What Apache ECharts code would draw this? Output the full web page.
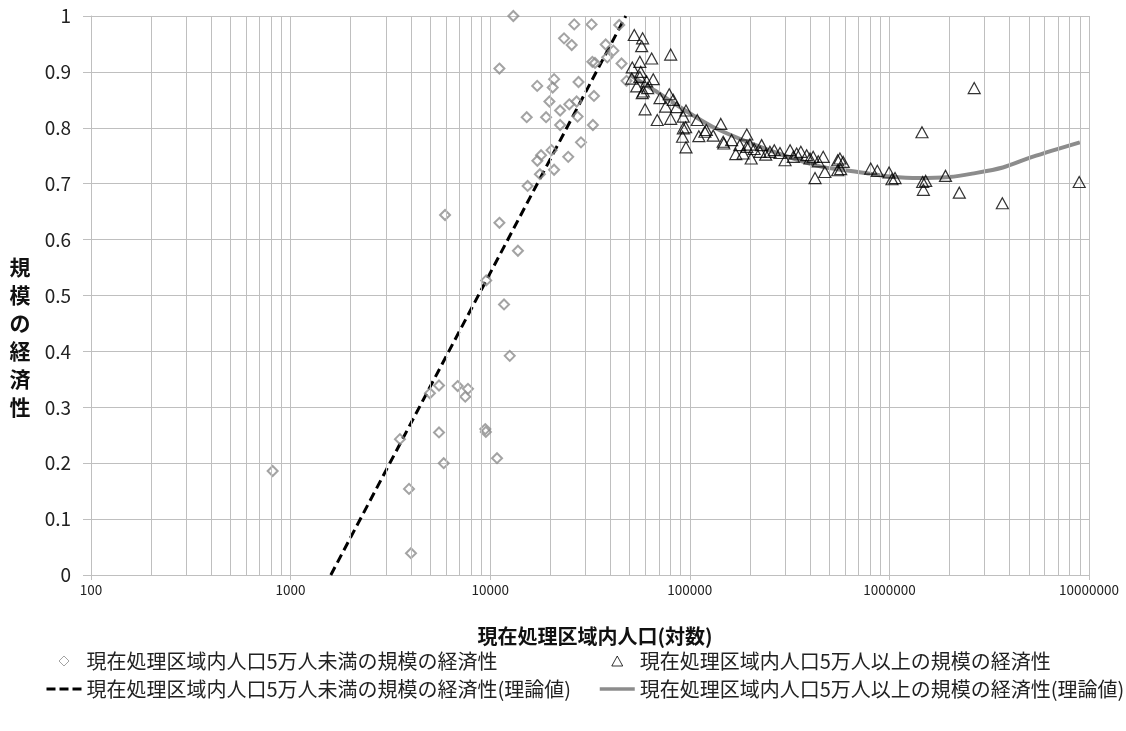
<!DOCTYPE html>
<html>
<head>
<meta charset="utf-8">
<script src="https://cdn.jsdelivr.net/npm/echarts@6/dist/echarts.min.js"></script>
<style>html,body{margin:0;padding:0;background:#fff;}#c{width:1126px;height:731px;}</style>
</head>
<body>
<div id="c"></div>
<script>
// ---- data ----
const seriesNames = [
  '現在処理区域内人口5万人未満の規模の経済性',
  '現在処理区域内人口5万人以上の規模の経済性',
  '現在処理区域内人口5万人未満の規模の経済性(理論値)',
  '現在処理区域内人口5万人以上の規模の経済性(理論値)'
];
const xTickLabels = ['100','1000','10000','100000','1000000','10000000'];
const yTickLabels = ['0','0.1','0.2','0.3','0.4','0.5','0.6','0.7','0.8','0.9','1'];
const minorGridValues = [
  200,300,400,500,600,700,800,900,
  2000,3000,4000,5000,6000,7000,8000,9000,
  20000,30000,40000,50000,60000,70000,80000,90000,
  200000,300000,400000,500000,600000,700000,800000,900000,
  2000000,3000000,4000000,5000000,6000000,7000000,8000000,9000000
];
// small municipalities (< 50,000): [population, economy of scale]
const smallObs = [
  [813,0.186],[3530,0.243],[3920,0.154],[4010,0.039],[4990,0.325],[5540,0.339],
  [5540,0.255],[5850,0.200],[5940,0.644],[6870,0.338],[7500,0.319],[7740,0.333],
  [9450,0.261],[9510,0.256],[9550,0.527],[10820,0.209],[11120,0.906],[11120,0.630],
  [11730,0.484],[12530,0.392],[13060,1.0],[13770,0.580],[15240,0.819],[15400,0.696],
  [17200,0.875],[17230,0.741],[17740,0.717],[17980,0.751],[19050,0.819],[19800,0.847],
  [20300,0.760],[20570,0.872],[20900,0.887],[20900,0.725],[22400,0.831],[22400,0.805],
  [23440,0.960],[24600,0.748],[24900,0.842],[25600,0.948],[26370,0.985],[27100,0.847],
  [27400,0.820],[27700,0.882],[28500,0.774],[32200,0.985],[32500,0.918],[32700,0.805],
  [33100,0.857],[33500,0.916],[37900,0.949],[38600,0.926],[41400,0.938],[44300,0.984],
  [45500,0.915],[48200,0.884]
];
// large municipalities (>= 50,000)
const largeObs = [
  [52700,0.966],[58000,0.960],[57400,0.946],[64400,0.924],[80200,0.931],[56200,0.918],
  [51500,0.908],[56800,0.900],[51200,0.888],[56200,0.891],[65600,0.887],[60800,0.883],
  [54200,0.874],[61500,0.871],[57800,0.862],[58500,0.865],[70900,0.853],[78900,0.860],
  [82600,0.850],[75700,0.838],[85900,0.837],[59700,0.833],[95700,0.831],[68700,0.814],
  [80200,0.816],[92700,0.820],[92800,0.799],[109000,0.814],[95300,0.801],[92000,0.784],
  [111000,0.785],[95700,0.765],[121000,0.796],[143000,0.807],[119000,0.793],[131000,0.786],
  [147000,0.775],[148000,0.772],[162000,0.778],[193000,0.788],[193000,0.766],[178000,0.769],
  [200000,0.770],[170000,0.753],[185000,0.754],[203000,0.745],[210000,0.762],[229000,0.769],
  [225000,0.757],[240000,0.752],[252000,0.757],[265000,0.760],[283000,0.755],[318000,0.760],
  [300000,0.742],[330000,0.748],[343000,0.754],[360000,0.757],[385000,0.751],[400000,0.745],
  [415000,0.748],[440000,0.740],[466000,0.748],[424000,0.710],[475000,0.721],[551000,0.742],
  [551000,0.724],[565000,0.745],[587000,0.739],[570000,0.726],[806000,0.727],[870000,0.723],
  [996000,0.720],[1067000,0.710],[1030000,0.708],[1456000,0.792],[1468000,0.703],[1480000,0.689],
  [1520000,0.705],[1910000,0.714],[2240000,0.684],[2660000,0.871],[3680000,0.665],[8930000,0.703]
];
// theoretical curves
const smallTheory = [[1590,0],[47800,1]];
const largeTheory = [
  [50000,0.895],[60000,0.877],[70000,0.862],[80000,0.848],[100000,0.826],[130000,0.802],
  [200000,0.773],[300000,0.750],[450000,0.731],[600000,0.724],[800000,0.718],[1000000,0.713],
  [1400000,0.710],[2000000,0.712],[2600000,0.718],[3700000,0.729],[5200000,0.748],[9000000,0.774]
];

// ---- chart ----
const FONT = '"Noto Sans CJK JP", "Noto Sans", sans-serif';
const GRID = '#bfbfbf';
const DIAMOND_ICON = 'path://M5,0L10,5L5,10L0,5Z';
const TRIANGLE_ICON = 'path://M6,0L12,11L0,11Z';
const legendCommon = {
  orient: 'vertical', itemWidth: 35, itemHeight: 10, itemGap: 8, padding: 0,
  symbolKeepAspect: true,
  textStyle: {fontFamily: FONT, fontSize: 20, color: '#222'},
  itemStyle: {borderWidth: 1}
};
const chart = echarts.init(document.getElementById('c'), null, {renderer: 'canvas'});
chart.setOption({
  animation: false,
  backgroundColor: '#ffffff',
  textStyle: {fontFamily: FONT},
  grid: {left: 91, right: 37, top: 16, bottom: 156, containLabel: false},
  xAxis: {
    type: 'log', logBase: 10, min: 100, max: 10000000,
    name: '現在処理区域内人口(対数)', nameLocation: 'middle', nameGap: 51,
    nameTextStyle: {fontFamily: FONT, fontSize: 20, fontWeight: 'bold', color: '#111', padding: [0,0,0,10]},
    axisLine: {show: true, lineStyle: {color: GRID, width: 1}},
    axisTick: {show: true, length: 5, lineStyle: {color: GRID}},
    axisLabel: {
      fontFamily: FONT, fontSize: 13.5, color: '#222', margin: 8,
      formatter: v => { const s = String(Math.round(v)); return xTickLabels.indexOf(s) >= 0 ? s : ''; }
    },
    splitLine: {show: true, lineStyle: {color: GRID, width: 1}},
    minorSplitLine: {show: false}
  },
  yAxis: {
    type: 'value', min: 0, max: 1, interval: 0.1,
    name: '\n\n\n規\n模\nの\n経\n済\n性', nameLocation: 'middle', nameRotate: 0, nameGap: 71,
    nameTextStyle: {fontFamily: FONT, fontSize: 21, fontWeight: 'bold', color: '#111',
      lineHeight: 28, align: 'center', verticalAlign: 'middle'},
    axisLine: {show: true, lineStyle: {color: GRID, width: 1}},
    axisTick: {show: true, length: 8, inside: false, lineStyle: {color: GRID}},
    axisLabel: {
      fontFamily: FONT, fontSize: 19, color: '#222', margin: 20,
      formatter: (v, i) => yTickLabels[Math.round(v * 10)]
    },
    splitLine: {show: true, lineStyle: {color: GRID, width: 1}}
  },
  legend: [
    Object.assign({}, legendCommon, {
      left: 45, top: 651,
      data: [
        {name: seriesNames[0], icon: DIAMOND_ICON},
        {name: seriesNames[2], itemStyle: {opacity: 0}, lineStyle: {width: 3, type: [9, 4], color: '#000'}}
      ]
    }),
    Object.assign({}, legendCommon, {
      left: 598, top: 651,
      data: [
        {name: seriesNames[1], icon: TRIANGLE_ICON},
        {name: seriesNames[3], itemStyle: {opacity: 0}, lineStyle: {width: 3.5, color: '#8c8c8c'}}
      ]
    })
  ],
  series: [
    {
      name: 'minor-grid', type: 'line', data: [], z: 1, silent: true,
      markLine: {
        silent: true, symbol: ['none','none'], label: {show: false}, animation: false,
        lineStyle: {color: GRID, width: 1, type: 'solid'},
        emphasis: {disabled: true},
        data: minorGridValues.map(v => ({xAxis: v}))
      }
    },
    {
      name: seriesNames[3], type: 'line', data: largeTheory, z: 2,
      symbol: 'none', smooth: 0.3,
      lineStyle: {color: '#8c8c8c', width: 4}, itemStyle: {color: '#8c8c8c'}
    },
    {
      name: seriesNames[2], type: 'line', data: smallTheory, z: 3,
      symbol: 'none',
      lineStyle: {color: '#000000', width: 3, type: [9, 5]}, itemStyle: {color: '#000000'}
    },
    {
      name: seriesNames[0], type: 'scatter', data: smallObs, z: 4,
      symbol: 'diamond', symbolSize: 10,
      itemStyle: {color: 'transparent', borderColor: '#8c8c8c', borderWidth: 2}
    },
    {
      name: seriesNames[1], type: 'scatter', data: largeObs, z: 5,
      symbol: 'triangle', symbolSize: [12, 11],
      itemStyle: {color: 'transparent', borderColor: '#000000', borderWidth: 1.2}
    }
  ]
});
</script>
</body>
</html>
